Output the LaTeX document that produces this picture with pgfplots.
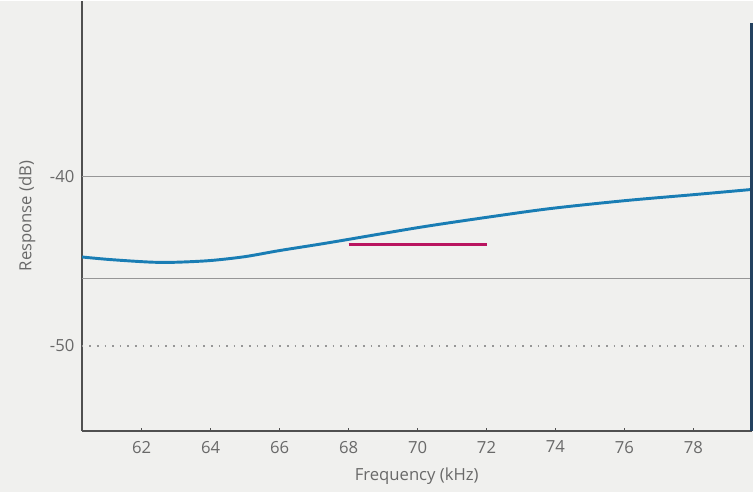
\documentclass[border=0pt]{standalone}
\usepackage{pgfplots}
\pgfplotsset{compat=1.18}
\usepackage{fontspec}
\setmainfont{Open Sans}
\definecolor{bgc}{RGB}{240,240,238}
\definecolor{txt}{RGB}{105,105,105}
\definecolor{axc}{RGB}{80,80,80}
\definecolor{curvec}{RGB}{25,125,180}
\definecolor{magc}{RGB}{185,20,95}
\definecolor{gridc}{RGB}{150,150,150}
\definecolor{raxc}{RGB}{35,65,95}
\begin{document}
\begin{tikzpicture}
\fill[bgc] (-61.3pt,-45.75pt) rectangle (503.5pt,322.5pt);
\begin{axis}[
  scale only axis,
  width=502.5pt, height=322.5pt,
  xmin=60.26, xmax=79.69,
  ymin=-55, ymax=-29.68,
  axis x line*=bottom,
  axis y line*=left,
  axis line style={axc, line width=1.4pt},
  xtick={62,64,...,78},
  ytick={-40,-50},
  yticklabels={-40,-50},
  tick align=inside,
  major tick length=2pt,
  tick style={axc, line width=1pt},
  ytick style={draw=none},
  /pgf/number format/assume math mode=true,
  ticklabel style={font=\fontsize{12.5}{14}\selectfont, text=txt},
  xticklabel style={yshift=-4pt},
  yticklabel style={xshift=-2pt},
  xlabel={Frequency (kHz)},
  ylabel={Response (dB)},
  label style={font=\fontsize{12.5}{14}\selectfont, text=txt},
  xlabel style={yshift=-4pt},
  ylabel style={yshift=4pt},
  clip=false,
]
\addplot[draw=gridc, line width=0.6pt, forget plot] coordinates {(60.26,-40) (79.69,-40)};
\addplot[draw=gridc, line width=0.6pt, forget plot] coordinates {(60.26,-46) (79.69,-46)};
\addplot[draw=gridc, line width=0.8pt, dash pattern=on 1.2pt off 4.5pt, forget plot] coordinates {(60.26,-50) (79.69,-50)};
\addplot[draw=curvec, line width=2.2pt, smooth] coordinates {
(60.27,-44.76) (61.08,-44.91) (62.24,-45.06) (62.97,-45.07) (63.98,-44.97)
(64.99,-44.74) (66.0,-44.38) (67.45,-43.91) (70.01,-43.03) (71.95,-42.44)
(73.84,-41.91) (76.02,-41.44) (78.0,-41.09) (79.65,-40.79)};
\addplot[draw=magc, line width=2.6pt] coordinates {(68.0,-44.03) (72.0,-44.03)};
\draw[raxc, line width=2pt] (rel axis cs:1,0) -- (rel axis cs:1,0.949);
\end{axis}
\end{tikzpicture}
\end{document}
